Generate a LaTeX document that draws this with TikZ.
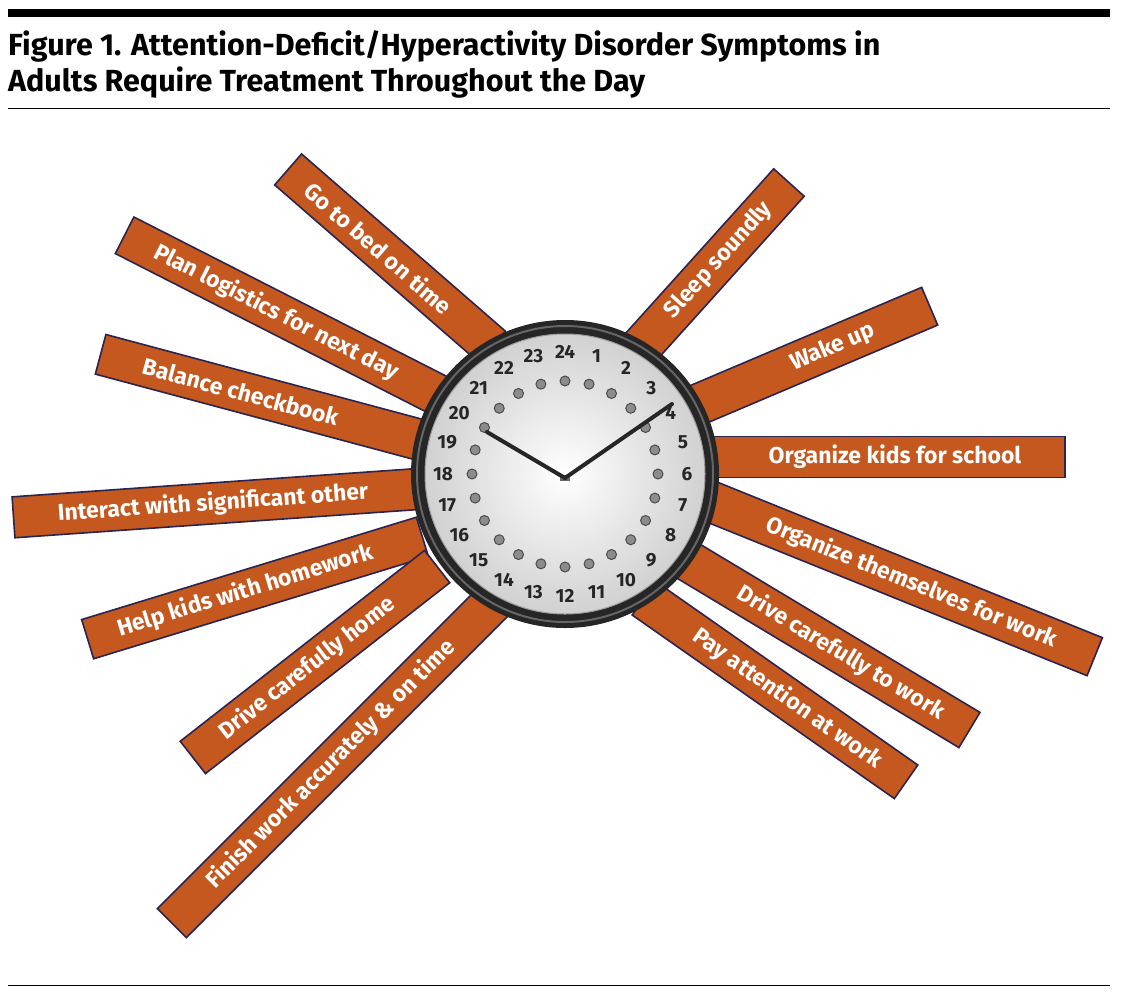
\documentclass[tikz,border=0pt]{standalone}
\usepackage{fontspec}
\setmainfont{Fira Sans}
\definecolor{barfill}{HTML}{C4581E}
\definecolor{barline}{HTML}{2A2450}
\begin{document}
\begin{tikzpicture}[x=1pt,y=-1pt,
  bar/.style={draw=barline,line width=1.6pt,fill=barfill,text=white,font=\bfseries\fontsize{23}{25}\selectfont,minimum height=41pt,inner sep=0pt},
  num/.style={font=\bfseries\fontsize{19}{19}\selectfont,text=black!85,inner sep=0pt},
  dot/.style={circle,draw=black!70,fill=black!45,line width=1pt,minimum size=10pt,inner sep=0pt},
  hand/.style={line width=4pt,black!85,line cap=round}]
\useasboundingbox (0,0) rectangle (1123,999);
\fill (8,9) rectangle (1110,17);
\node[anchor=west,font=\bfseries\fontsize{30.5}{36}\selectfont,align=left,inner sep=0pt] (title) at (8,64) {Figure 1. Attention-Deficit/Hyperactivity Disorder Symptoms in\\Adults Require Treatment Throughout the Day};
\draw[line width=1pt] (8,108) -- (1110,108);
\draw[line width=1pt] (8,985) -- (1110,985);
% bars
\node[bar,minimum width=270pt,rotate=-41] (b1) at (390,258) {\hspace*{-30pt}Go to bed on time};
\node[bar,minimum width=360pt,rotate=-27] (b2) at (285,317) {\hspace*{-20pt}Plan logistics for next day};
\node[bar,minimum width=330pt,rotate=-15] (b3) at (260,397) {\hspace*{-40pt}Balance checkbook};
\node[bar,minimum width=410pt,rotate=4] (b4) at (218,503) {\hspace*{-10pt}Interact with significant other};
\node[bar,minimum width=350pt,rotate=17] (b5) at (255,588) {\hspace*{-20pt}Help kids with homework};
\node[bar,minimum width=310pt,rotate=38] (b6) at (315,662) {\hspace*{-20pt}Drive carefully home};
\node[bar,minimum width=470pt,rotate=45] (b7) at (338,757) {\hspace*{-20pt}Finish work accurately \& on time};
\node[bar,minimum width=230pt,rotate=48] (b8) at (712,268) {\hspace*{20pt}Sleep soundly};
\node[bar,minimum width=260pt,rotate=23] (b9) at (810,357) {\hspace*{50pt}Wake up};
\node[bar,minimum width=360pt,rotate=0] (b10) at (885,457) {\hspace*{20pt}Organize kids for school};
\node[bar,minimum width=420pt,rotate=-22] (b11) at (900,578) {\hspace*{25pt}Organize themselves for work};
\node[bar,minimum width=330pt,rotate=-31] (b12) at (828,645) {\hspace*{30pt}Drive carefully to work};
\node[bar,minimum width=320pt,rotate=-35] (b13) at (775,690) {\hspace*{30pt}Pay attention at work};
% clock
\coordinate (c) at (565,474);
\fill[black!85] (c) circle (154);
\draw[black!60,line width=2pt] (c) circle (148);
\shade[inner color=white,outer color=black!18] (c) circle (140);
\draw[black!40,line width=1pt] (c) circle (140);
\foreach \n in {1,...,24}{
  \node[num] (n\n) at ({565+122*sin(\n*15)},{474-122*cos(\n*15)}) {\n};
  \node[dot] (d\n) at ({565+93*sin(\n*15)},{474-93*cos(\n*15)}) {};
}
\node[font=\bfseries\tiny,inner sep=1pt,fill=black!60,text=white] (logo) at (565,478) {ISS};
\draw[hand] (logo.center) -- (487,432);
\draw[hand] (logo.center) -- (672,404);
\end{tikzpicture}
\end{document}
